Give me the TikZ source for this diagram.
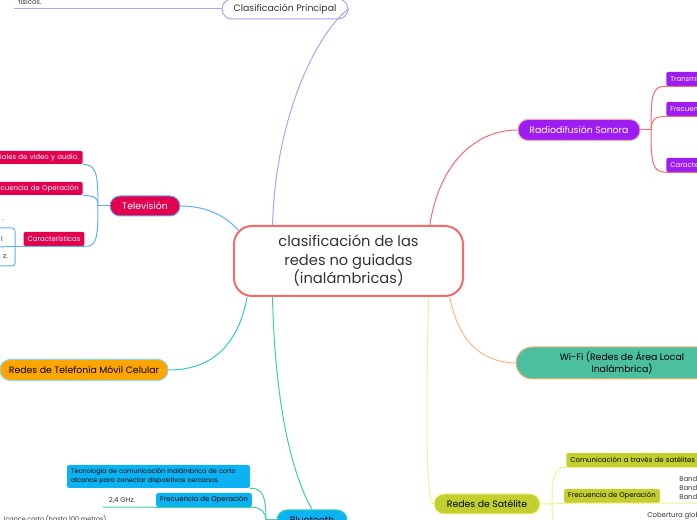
\documentclass[tikz,border=0pt]{standalone}
\usepackage{fontspec}
\setmainfont{Poppins}
\usetikzlibrary{positioning,calc}

\definecolor{coral}{HTML}{F46B6B}
\definecolor{lavender}{HTML}{A9A4F4}
\definecolor{sky}{HTML}{5FB0F2}
\definecolor{crimson}{HTML}{E2004F}
\definecolor{grape}{HTML}{9D1CF2}
\definecolor{peach}{HTML}{FDB680}
\definecolor{jade}{HTML}{4CBF9F}
\definecolor{satlime}{HTML}{C3CF2E}
\definecolor{straw}{HTML}{F6EE8E}
\definecolor{azure}{HTML}{0CB3F3}
\definecolor{mint}{HTML}{3DCFA6}
\definecolor{amber}{HTML}{FFA502}
\definecolor{aqua}{HTML}{2EC7D6}
\definecolor{ink}{HTML}{333333}

\begin{document}
\begin{tikzpicture}[x=0.75pt, y=-0.75pt, every node/.style={align=center}]
        % estilos
        \tikzstyle{central} = [rectangle, rounded corners=13.5pt, minimum width=171.75pt, minimum height=52.5pt, draw=coral, line width=1.5pt, fill=white, text=ink, font=\fontsize{11}{13.9}\selectfont]
        \tikzstyle{topic} = [rectangle, rounded corners=7.5pt, minimum height=15pt, inner sep=0pt, line width=0.75pt, font=\fontsize{7}{9}\selectfont]
        \tikzstyle{leaf} = [rectangle, rounded corners=1.5pt, minimum height=10.5pt, inner xsep=3pt, inner ysep=0pt, font=\fontsize{5.2}{6.6}\selectfont]
        \tikzstyle{note} = [inner sep=0pt, text=ink, font=\fontsize{5.2}{6.6}\selectfont]
        \tikzstyle{link} = [line width=0.75pt]

        \useasboundingbox (0,0) rectangle (697,520);
        \clip (0,0) rectangle (697,520);

        % nodos
        \node (main) [central] at (348.5,261) {clasificación de las\\redes no guiadas\\(inalámbricas)};
        \node (clasif) [topic, draw=lavender, fill=white, text=ink, minimum width=94.5pt] at (285,9) {Clasificación Principal};
        \node (radio) [topic, draw=coral!60, fill=grape, text=white, minimum width=91.5pt, minimum height=15.75pt] at (579,130) {Radiodifusión Sonora};
        \node (tele) [topic, draw=sky, fill=crimson, text=white, minimum width=52.5pt] at (145,206) {Televisión};
        \node (movil) [topic, draw=aqua!60, fill=amber, text=black, minimum width=126pt, minimum height=15.75pt] at (84,370) {Redes de Telefonía Móvil Celular};
        \node (wifi) [topic, draw=peach, fill=jade, text=black, minimum width=159pt, minimum height=24pt, rounded corners=12pt] at (622,363) {Wi-Fi (Redes de Área Local\\Inalámbrica)};
        \node (sat) [topic, draw=straw, fill=satlime, text=black, minimum width=79.5pt] at (487,504) {Redes de Satélite};
        \node (bt) [topic, draw=mint, fill=azure, text=black, minimum width=52.5pt] at (312,520) {Bluetooth};

        % hojas
        \node (fis) [note] at (30,2) {físicos.};
        \node (r1) [leaf, fill=grape, text=white, anchor=west, text width=60pt, align=left] at (666,79) {Transmi};
        \node (r2) [leaf, fill=grape, text=white, anchor=west, text width=60pt, align=left] at (666,109) {Frecuen};
        \node (r3) [leaf, fill=grape, text=white, anchor=west, text width=60pt, align=left] at (666,165) {Caracte};
        \node (t1) [leaf, fill=crimson, text=white, anchor=east, text width=80pt, align=right, minimum height=9.75pt] at (83,157.5) {ñales de video y audio.};
        \node (t2) [leaf, fill=crimson, text=white, anchor=east, text width=80pt, align=right, minimum height=9.75pt] at (83,188.5) {Frecuencia de Operación};
        \node (t3) [leaf, fill=crimson, text=white] at (54,239) {Características};
        \node (tgroup) [draw=sky, rounded corners=2.25pt, line width=0.75pt, minimum width=22.5pt, minimum height=28.5pt, inner sep=0pt] at (0,247) {};
        \node (tn1) [note, anchor=east] at (4,220) {.};
        \node (tn2) [note, anchor=east] at (3,239) {l};
        \node (tn3) [note, anchor=east] at (8,257) {z.};
        \node (s1) [leaf, fill=satlime, text=black, anchor=west, text width=150pt, align=left] at (566,460) {Comunicación a través de satélites en};
        \node (s2) [leaf, fill=satlime, text=black] at (612,496) {Frecuencia de Operación};
        \node (sb1) [note, anchor=west] at (679,479) {Band};
        \node (sb2) [note, anchor=west] at (679,488) {Band};
        \node (sb3) [note, anchor=west] at (679,497) {Band};
        \node (scob) [note, anchor=west] at (647,516) {Cobertura glob};
        \node (b1) [leaf, fill=azure, text=black, text width=131pt, align=left, minimum height=17.25pt, font=\fontsize{4.8}{6.6}\selectfont] at (158.5,476.5) {Tecnología de comunicación inalámbrica de corto\\alcance para conectar dispositivos cercanos.};
        \node (b2) [leaf, fill=azure, text=black] at (204,500) {Frecuencia de Operación};
        \node (bghz) [note] at (122,500) {2,4 GHz.};
        \node (bcorto) [note, anchor=east, font=\fontsize{4.8}{6.6}\selectfont] at (108,519) {lcance corto (hasta 100 metros).};

        % puntos de ramificacion
        \coordinate (cend) at (14,9);
        \coordinate (rfork) at (651,130);
        \coordinate (tfork) at (98,206);
        \coordinate (tcut) at (-6,247);
        \coordinate (sfork) at (552,504);
        \coordinate (scut) at (710,503);
        \coordinate (sdown) at (560,535);
        \coordinate (bfork) at (266,520);
        \coordinate (bcut) at (103,507);
        \coordinate (bdown) at (262,535);

        % conexiones
        \draw [link, lavender] ([xshift=-57pt]main.north) .. controls (276,110) and (320,30) .. (clasif.east);
        \draw [link, lavender] (clasif.west) -- (cend);
        \draw [link, coral] ([xshift=61pt]main.north) .. controls (440,160) and (478,130) .. (radio.west);
        \draw [link, coral] (radio.east) -- (rfork);
        \draw [link, coral] (rfork) .. controls (651,95) and (652,86) .. (r1.south west) -- (r1.south east);
        \draw [link, coral] (rfork) .. controls (652,118) and (655,117) .. (r2.south west) -- (r2.south east);
        \draw [link, coral] (rfork) .. controls (651,165) and (653,172) .. (r3.south west) -- (r3.south east);
        \draw [link, sky] ([xshift=4pt,yshift=-4pt]main.north west) .. controls (225,215) and (205,206) .. (tele.east);
        \draw [link, sky] (tele.west) -- (tfork);
        \draw [link, sky] (tfork) .. controls (98,172) and (96,165) .. (t1.south east);
        \draw [link, sky] (tfork) .. controls (98,198) and (96,196) .. (t2.south east);
        \draw [link, sky] (tfork) .. controls (98,240) and (96,247) .. (t3.south east) -- (t3.south west) -- (tcut);
        \draw [link, aqua] ([xshift=-76pt]main.south) .. controls (240,335) and (220,370) .. (movil.east);
        \draw [link, peach] ([xshift=76pt]main.south) .. controls (458,340) and (480,362) .. (wifi.west);
        \draw [link, straw] ([xshift=60pt]main.south) .. controls (426,420) and (426,504) .. (sat.west);
        \draw [link, straw] (sat.east) -- (sfork) -- (s2.south west) -- (scut);
        \draw [link, straw] (sfork) .. controls (552,475) and (556,467) .. (s1.south west) -- (s1.south east);
        \draw [link, straw] (sfork) .. controls (552,515) and (553,525) .. (sdown);
        \draw [link, mint] ([xshift=-57pt]main.south) .. controls (275,400) and (290,470) .. (bt.north);
        \draw [link, mint] (bt.west) -- (bfork);
        \draw [link, mint] (bfork) .. controls (266,495) and (262,488) .. (b1.south east);
        \draw [link, mint] (bfork) .. controls (266,512) and (260,507) .. (b2.south east) -- (b2.south west) -- (bcut);
        \draw [link, mint] (bfork) .. controls (266,528) and (264,532) .. (bdown);
    \end{tikzpicture}
\end{document}
